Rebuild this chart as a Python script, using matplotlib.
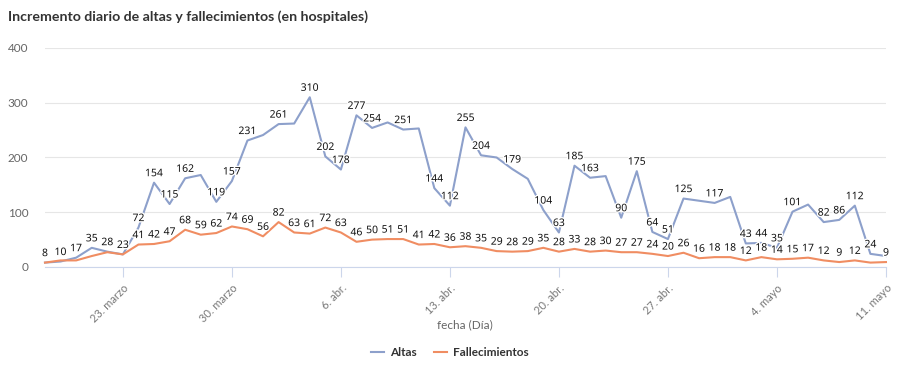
import matplotlib
matplotlib.use("Agg")
import matplotlib.pyplot as plt
import matplotlib.patheffects as pe
from matplotlib.lines import Line2D
import numpy as np
import pandas as pd

# ---- data ----
start_date = "2020-03-18"
altas = [8, 10, 17, 35, 28, 23, 72, 154, 115, 162, 168, 119, 157, 231, 241, 261, 262, 310,
         202, 178, 277, 254, 264, 251, 253, 144, 112, 255, 204, 200, 179, 161, 104, 63, 185,
         163, 166, 90, 175, 64, 51, 125, 121, 117, 128, 43, 44, 35, 101, 114, 82, 86, 112, 24, 20]
fallecimientos = [8, 12, 12, 20, 27, 23, 41, 42, 47, 68, 59, 62, 74, 69, 56, 82, 63, 61, 72,
                  63, 46, 50, 51, 51, 41, 42, 36, 38, 35, 29, 28, 29, 35, 28, 33, 28, 30, 27,
                  27, 24, 20, 26, 16, 18, 18, 12, 18, 14, 15, 17, 12, 9, 12, 8, 9]
# data labels hidden in the original (overlap removal)
altas_hidden = [10, 14, 16, 22, 24, 29, 31, 36, 42, 44, 49, 54]
fallec_hidden = [0, 1, 2, 3, 4, 5, 53]
tick_dates = ["2020-03-23", "2020-03-30", "2020-04-06", "2020-04-13",
              "2020-04-20", "2020-04-27", "2020-05-04", "2020-05-11"]
tick_labels = ["23. marzo", "30. marzo", "6. abr.", "13. abr.",
               "20. abr.", "27. abr.", "4. mayo", "11. mayo"]
y_ticks = [0, 100, 200, 300, 400]
series_names = ["Altas", "Fallecimientos"]

dates = pd.date_range(start_date, periods=len(altas), freq="D")

BLUE = "#8da0cb"
ORANGE = "#f08d62"

fig = plt.figure(figsize=(9, 3.68), dpi=100)
ax = fig.add_axes([0.05, 0.2745, 0.9344, 0.5951])

for vals, col in [(altas, BLUE), (fallecimientos, ORANGE)]:
    ax.plot(dates, vals, color=col, lw=1.5, solid_joinstyle="round", clip_on=False, zorder=3)

for vals, hidden in [(altas, altas_hidden), (fallecimientos, fallec_hidden)]:
    for i, (d, v) in enumerate(zip(dates, vals)):
        if i in hidden:
            continue
        ax.annotate(str(v), (d, v), xytext=(0, 2.5), textcoords="offset points",
                    ha="center", va="bottom", fontsize=7.5, color="#111111",
                    family="Noto Sans", fontweight="semibold", zorder=5,
                    path_effects=[pe.withStroke(linewidth=2, foreground="white")])

ax.set_xlim(dates[0], dates[-1])
ax.set_ylim(0, 400)
ax.set_yticks(y_ticks)
ax.set_yticklabels([str(t) for t in y_ticks], family="Lato", fontsize=8.5, color="#666666")
ax.tick_params(axis="y", length=0, pad=12)
ax.grid(axis="y", color="#e6e6e6", lw=0.8)
ax.set_axisbelow(True)

ax.set_xticks(pd.to_datetime(tick_dates))
ax.set_xticklabels(tick_labels, rotation=45, ha="right", va="top", rotation_mode="anchor",
                   family="Lato", fontsize=8, color="#777777")
ax.tick_params(axis="x", length=7, width=0.8, color="#ccd6eb", pad=4)

for s in ["top", "right", "left"]:
    ax.spines[s].set_visible(False)
ax.spines["bottom"].set_color("#ccd6eb")
ax.spines["bottom"].set_linewidth(0.8)

fig.text(0.5167, 0.117, "fecha (Día)", ha="center", va="center", family="Lato",
         fontsize=8.5, color="#666666")

fig.text(0.009, 0.955, "Incremento diario de altas y fallecimientos (en hospitales)",
         ha="left", va="center", family="Lato", fontsize=10.2, color="#333333",
         fontweight="bold")

handles = [Line2D([], [], color=BLUE, lw=1.5), Line2D([], [], color=ORANGE, lw=1.5)]
leg = fig.legend(handles, series_names, loc="center", bbox_to_anchor=(0.5, 0.043),
                 ncol=2, frameon=False, handlelength=1.1, handletextpad=0.5,
                 columnspacing=1.5, prop={"family": "Lato", "size": 8.5, "weight": "bold"})
for t in leg.get_texts():
    t.set_color("#333333")

fig.savefig("out.png", dpi=100)
